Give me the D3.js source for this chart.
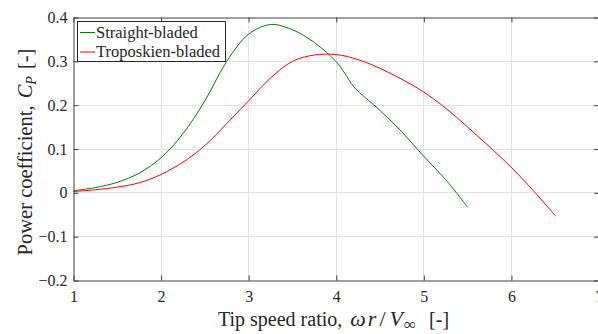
<!DOCTYPE html>
<html>
<head>
<meta charset="utf-8">
<script src="https://cdn.jsdelivr.net/npm/d3@7"></script>
<style>
  body { margin: 0; background: #fff; }
  svg { display: block; font-family: "Liberation Serif", "Times New Roman", "DejaVu Serif", serif; }
</style>
</head>
<body>
<div id="chart"></div>
<script>
// tip speed ratio / power coefficient
var straightTsr = [1.0, 1.25, 1.5, 1.75, 2.0, 2.25, 2.5, 2.75, 3.0, 3.25, 3.5, 3.75, 4.0, 4.1, 4.2, 4.5, 4.75, 5.0, 5.25, 5.5];
var straightCp  = [0.005, 0.012, 0.024, 0.045, 0.08, 0.135, 0.21, 0.300, 0.362, 0.384, 0.372, 0.343, 0.299, 0.272, 0.242, 0.188, 0.139, 0.083, 0.030, -0.033];

var troposTsr = [1.0, 1.25, 1.5, 1.75, 2.0, 2.25, 2.5, 2.75, 3.0, 3.25, 3.5, 3.75, 4.0, 4.25, 4.5, 4.75, 5.0, 5.25, 5.5, 5.75, 6.0, 6.25, 6.5];
var troposCp  = [0.003, 0.007, 0.013, 0.023, 0.042, 0.07, 0.108, 0.158, 0.21, 0.262, 0.300, 0.3145, 0.3155, 0.304, 0.284, 0.259, 0.230, 0.193, 0.150, 0.105, 0.058, 0.005, -0.052];

var seriesNames  = ["Straight-bladed", "Troposkien-bladed"];
var seriesColors = ["#008000", "#ff0000"];

var xTicks = [1, 2, 3, 4, 5, 6, 7];
var yTicks = [-0.2, -0.1, 0, 0.1, 0.2, 0.3, 0.4];

var width = 598, height = 334;
var mLeft = 73.5, mRight = 599, mTop = 17.5, mBottom = 280.5;
var axisColor = "#404040", textColor = "#262626", gridColor = "#e3e3e3";
var serif = "Liberation Serif, Times New Roman, serif";

var svg = d3.select("#chart").append("svg")
  .attr("width", width)
  .attr("height", height);

var x = d3.scaleLinear().domain([1, 7]).range([mLeft, mRight]);
var y = d3.scaleLinear().domain([-0.2, 0.4]).range([mBottom, mTop]);

// grid
var grid = svg.append("g").attr("shape-rendering", "crispEdges");
grid.selectAll(".gx").data(xTicks.slice(1, -1)).enter().append("line")
  .attr("x1", function(d){ return x(d); }).attr("x2", function(d){ return x(d); })
  .attr("y1", mTop).attr("y2", mBottom)
  .attr("stroke", gridColor);
grid.selectAll(".gy").data(yTicks.slice(1, -1)).enter().append("line")
  .attr("x1", mLeft).attr("x2", mRight)
  .attr("y1", function(d){ return y(d); }).attr("y2", function(d){ return y(d); })
  .attr("stroke", gridColor);

// curves
var line = d3.line()
  .x(function(d){ return x(d[0]); })
  .y(function(d){ return y(d[1]); })
  .curve(d3.curveCatmullRom.alpha(0.5));

var series = [d3.zip(straightTsr, straightCp), d3.zip(troposTsr, troposCp)];
svg.selectAll(".curve").data(series).enter().append("path")
  .attr("d", line)
  .attr("fill", "none")
  .attr("stroke", function(d, i){ return seriesColors[i]; })
  .attr("stroke-width", 1);

// axes, ticks pointing inward on all four sides
function styleAxis(g) {
  g.select(".domain").attr("stroke", axisColor);
  g.selectAll(".tick line").attr("stroke", axisColor);
  g.selectAll("text")
    .attr("fill", textColor)
    .attr("font-size", 16)
    .attr("font-family", serif);
}
var fmt = function(d){ return d3.format("")(Math.round(d * 10) / 10); };

svg.append("g")
  .attr("transform", "translate(0," + mBottom + ")")
  .call(d3.axisBottom(x).tickValues(xTicks).tickSize(-5).tickSizeOuter(0).tickPadding(10).tickFormat(d3.format("d")))
  .call(styleAxis);
svg.append("g")
  .attr("transform", "translate(0," + mTop + ")")
  .call(d3.axisTop(x).tickValues(xTicks).tickSize(-5).tickSizeOuter(0).tickFormat(""))
  .call(styleAxis);
svg.append("g")
  .attr("transform", "translate(" + mLeft + ",0)")
  .call(d3.axisLeft(y).tickValues(yTicks).tickSize(-5).tickSizeOuter(0).tickPadding(6).tickFormat(fmt))
  .call(styleAxis);
svg.append("g")
  .attr("transform", "translate(" + mRight + ",0)")
  .call(d3.axisRight(y).tickValues(yTicks).tickSize(-5).tickSizeOuter(0).tickFormat(""))
  .call(styleAxis);

// axis titles
var xt = svg.append("text")
  .attr("x", 218)
  .attr("y", 326)
  .attr("font-size", 20)
  .attr("fill", textColor);
xt.append("tspan").text("Tip speed ratio, ");
xt.append("tspan").attr("font-style", "italic").attr("font-size", 22).attr("dx", 3).text("ω");
xt.append("tspan").attr("font-style", "italic").attr("font-size", 22).attr("dx", 2).text("r");
xt.append("tspan").attr("font-size", 22).attr("dx", 3).text("/");
xt.append("tspan").attr("font-style", "italic").attr("font-size", 22).attr("dx", 4).text("V");
xt.append("tspan").attr("font-size", 17).attr("dx", 1).attr("dy", 4).text("∞");
xt.append("tspan").attr("dx", 13).attr("dy", -4).text("[-]");

var yt = svg.append("text")
  .attr("transform", "translate(32,152) rotate(-90)")
  .attr("text-anchor", "middle")
  .attr("font-size", 20.5)
  .attr("fill", textColor);
yt.append("tspan").text("Power coefficient, ");
yt.append("tspan").attr("font-style", "italic").attr("dx", 2).text("C");
yt.append("tspan").attr("font-style", "italic").attr("font-size", 14).attr("dy", 4).text("P");
yt.append("tspan").attr("dx", 7).attr("dy", -4).text("[-]");

// legend
var legend = svg.append("g");
legend.append("rect")
  .attr("x", 77.5).attr("y", 21.5)
  .attr("width", 148).attr("height", 40)
  .attr("fill", "#fff")
  .attr("stroke", textColor)
  .attr("stroke-width", 1);
var items = legend.selectAll(".item").data(seriesNames).enter().append("g")
  .attr("transform", function(d, i){ return "translate(0," + (32.5 + i * 19.5) + ")"; });
items.append("line")
  .attr("x1", 80).attr("x2", 95)
  .attr("stroke", function(d, i){ return seriesColors[i]; });
items.append("text")
  .attr("x", 96)
  .attr("dy", "0.33em")
  .attr("font-size", 16.5)
  .attr("fill", textColor)
  .text(function(d){ return d; });
</script>
</body>
</html>
